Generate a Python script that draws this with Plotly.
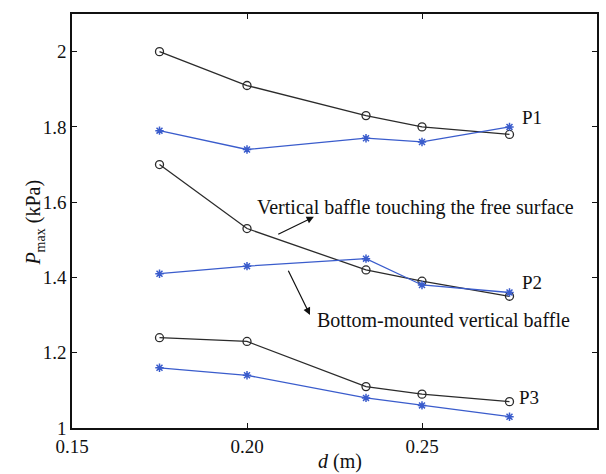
import plotly.graph_objects as go

d = [0.175, 0.20, 0.234, 0.25, 0.275]
p1_touch = [2.00, 1.91, 1.83, 1.80, 1.78]
p1_bottom = [1.79, 1.74, 1.77, 1.76, 1.80]
p2_touch = [1.70, 1.53, 1.42, 1.39, 1.35]
p2_bottom = [1.41, 1.43, 1.45, 1.38, 1.36]
p3_touch = [1.24, 1.23, 1.11, 1.09, 1.07]
p3_bottom = [1.16, 1.14, 1.08, 1.06, 1.03]

x_ticks = [0.15, 0.20, 0.25, 0.30]
x_tick_labels = ["0.15", "0.20", "0.25", "0.30"]
y_ticks = [1.0, 1.2, 1.4, 1.6, 1.8, 2.0]
y_tick_labels = ["1", "1.2", "1.4", "1.6", "1.8", "2"]

BLACK = "#2b2b2b"
BLUE = "#3a5ccc"
FONT = "Liberation Serif, Times New Roman, serif"

fig = go.Figure()
for ys in (p1_touch, p2_touch, p3_touch):
    fig.add_trace(go.Scatter(x=d, y=ys, mode="lines+markers",
                             line=dict(color=BLACK, width=1.3),
                             marker=dict(symbol="circle-open", size=8,
                                         line=dict(color=BLACK, width=1.3)),
                             showlegend=False))
for ys in (p1_bottom, p2_bottom, p3_bottom):
    fig.add_trace(go.Scatter(x=d, y=ys, mode="lines+markers",
                             line=dict(color=BLUE, width=1.3),
                             marker=dict(symbol="asterisk-open", size=7,
                                         line=dict(color=BLUE, width=1.5)),
                             showlegend=False))

tfont = dict(family=FONT, size=20, color="#111")
lfont = dict(family=FONT, size=19, color="#111")
anns = [
    dict(x=0.2814, y=1.824, text="P1", showarrow=False, font=lfont),
    dict(x=0.2814, y=1.386, text="P2", showarrow=False, font=lfont),
    dict(x=0.2805, y=1.080, text="P3", showarrow=False, font=lfont),
    dict(x=0.2023, y=1.585, text="Vertical baffle touching the free surface",
         showarrow=False, xanchor="left", font=tfont),
    dict(x=0.2194, y=1.287, text="Bottom-mounted vertical baffle",
         showarrow=False, xanchor="left", font=tfont),
    dict(x=0.2191, y=1.561, ax=0.2085, ay=1.513, axref="x", ayref="y",
         showarrow=True, arrowhead=2, arrowsize=1.2, arrowwidth=1.2,
         arrowcolor="#111", text=""),
    dict(x=0.2180, y=1.3005, ax=0.2116, ay=1.422, axref="x", ayref="y",
         showarrow=True, arrowhead=2, arrowsize=1.2, arrowwidth=1.2,
         arrowcolor="#111", text=""),
    dict(xref="paper", yref="paper", x=-0.099, y=0.495, textangle=-90,
         text="<i>P</i><sub>max</sub> (kPa)", showarrow=False,
         font=dict(family=FONT, size=20, color="#111")),
    dict(xref="paper", yref="paper", x=0.51, y=-0.081, yanchor="middle",
         text="<i>d</i> (m)", showarrow=False,
         font=dict(family=FONT, size=20, color="#111")),
]

axis_common = dict(showgrid=False, zeroline=False, showline=True,
                   linecolor="#111", linewidth=1.5, mirror="ticks",
                   ticks="inside", ticklen=5, tickcolor="#111", tickwidth=1.2,
                   automargin=False,
                   tickfont=dict(family=FONT, size=19, color="#111"))

fig.update_layout(
    width=606, height=474,
    margin=dict(l=72, r=9, t=14, b=46),
    paper_bgcolor="white", plot_bgcolor="white",
    annotations=anns,
    xaxis=dict(range=[0.15, 0.30], tickvals=x_ticks, ticktext=x_tick_labels,
               **axis_common),
    yaxis=dict(range=[1.0, 2.1], tickvals=y_ticks, ticktext=y_tick_labels,
               **axis_common),
)

fig.write_html("out.html")
